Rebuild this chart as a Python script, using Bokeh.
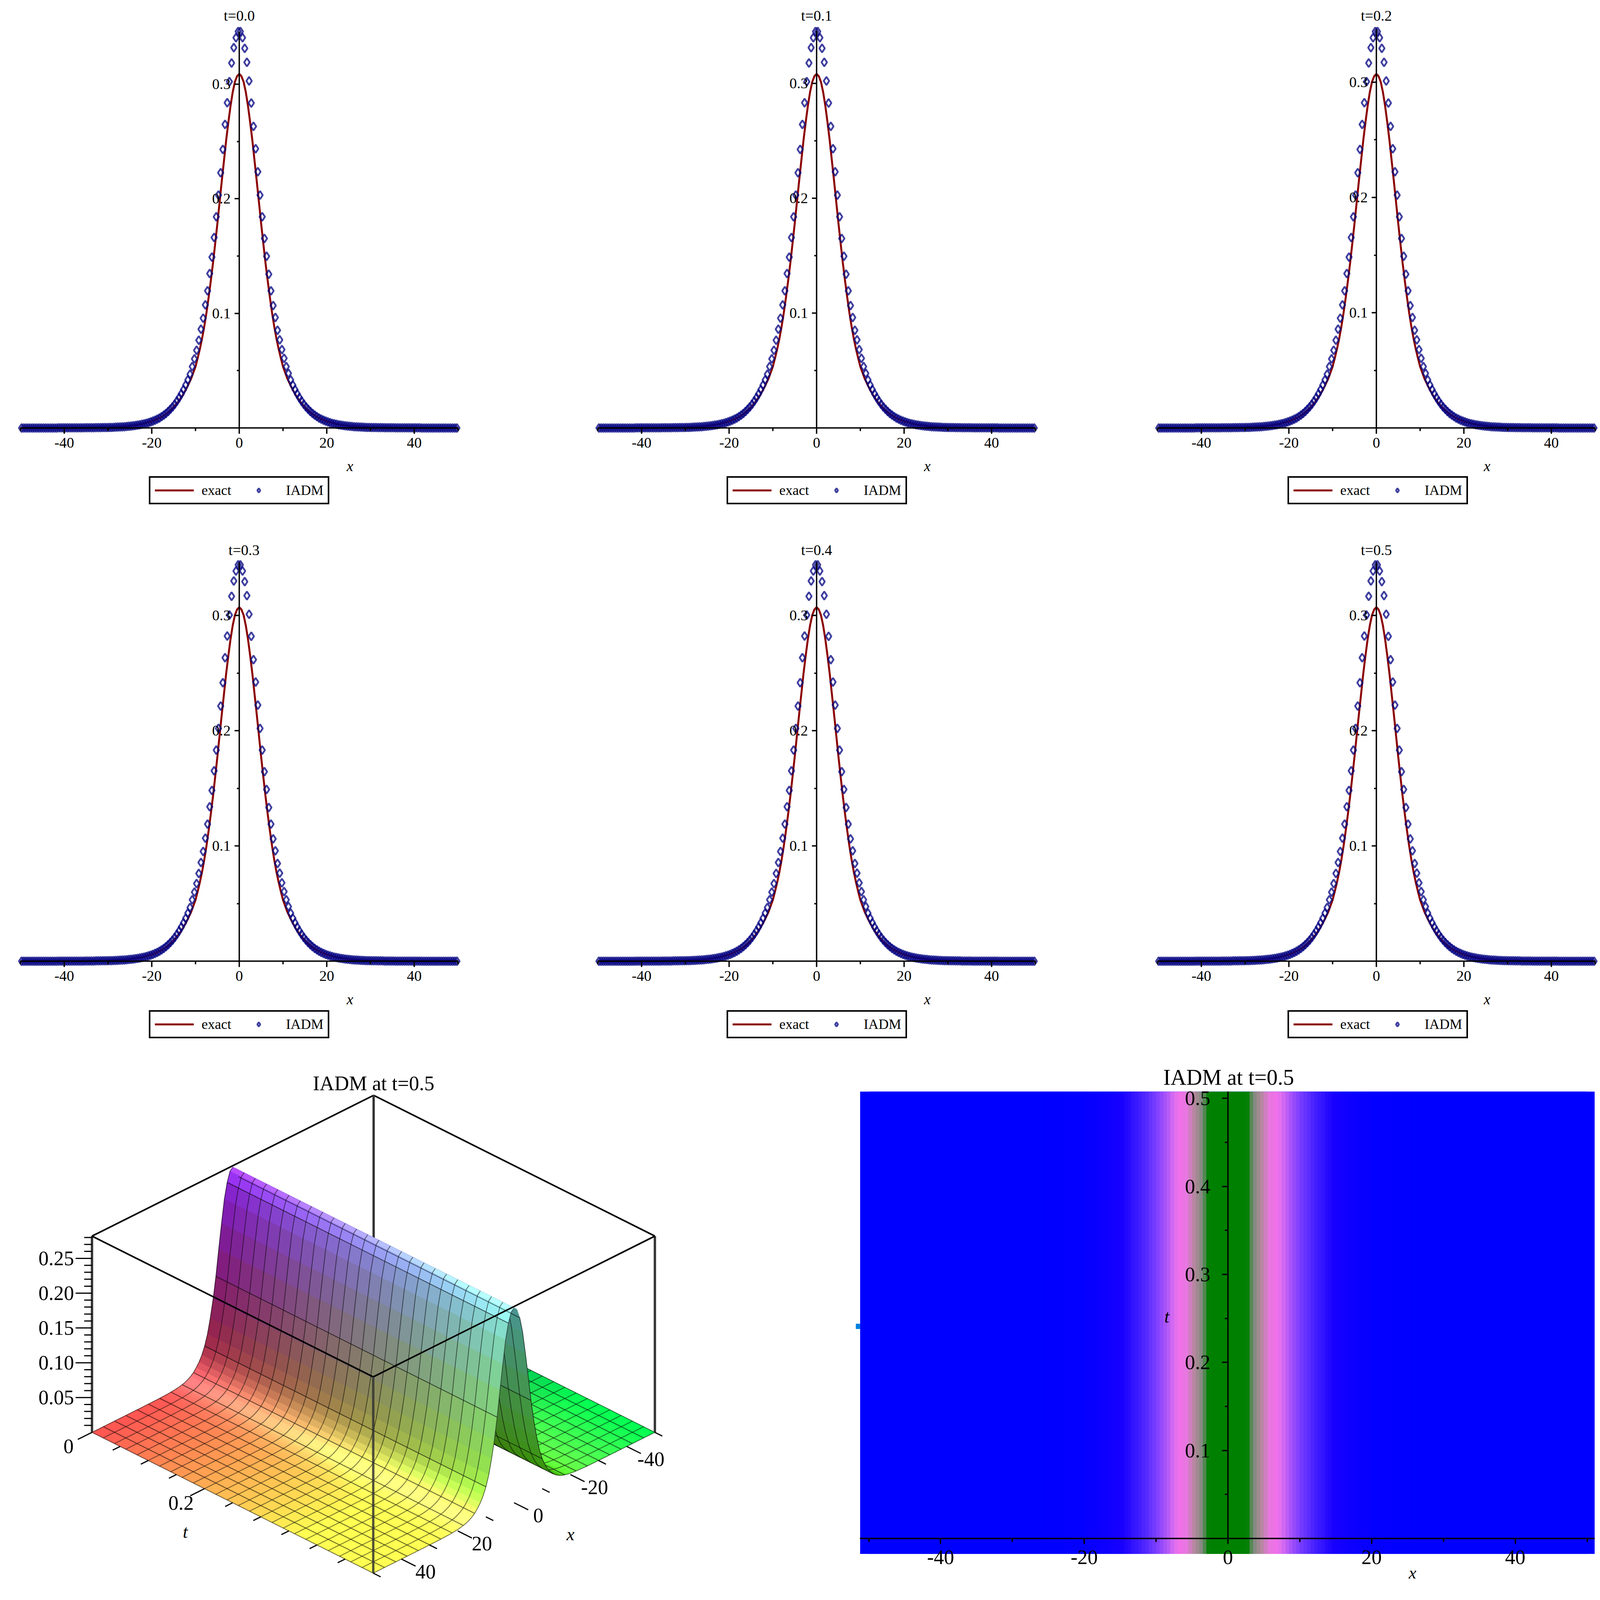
import numpy as np
from bokeh.embed import file_html
from bokeh.layouts import column, row
from bokeh.models import BoxAnnotation, ColumnDataSource, FixedTicker, Label, LinearColorMapper, Range1d
from bokeh.plotting import figure
from bokeh.resources import INLINE

panel_titles = ["t=0.0", "t=0.1", "t=0.2", "t=0.3", "t=0.4", "t=0.5"]
title_x = [0.0, 0.0, 0.0, 1.1, 0.0, 0.0]

iadm_right = [
    0.346, 0.3406, 0.3313, 0.3191, 0.3028, 0.2836, 0.2632, 0.2437, 0.2236, 0.2032,
    0.1843, 0.1654, 0.1499, 0.1342, 0.1197, 0.1068, 0.0964, 0.0853, 0.0769, 0.0684,
    0.0608, 0.0536, 0.0477, 0.0420, 0.0375, 0.0335, 0.0298, 0.0265, 0.0235, 0.0208,
    0.0184, 0.0163, 0.0144, 0.0127, 0.0112, 0.0099, 0.0087, 0.0077, 0.0068, 0.0060,
    0.0053, 0.0047, 0.0041, 0.0036, 0.0032, 0.0028, 0.0025, 0.0022, 0.0019, 0.0017,
    0.0015, 0.0013, 0.0011, 0.0010, 0.0009, 0.0008, 0.0007, 0.0006, 0.0005, 0.0005,
    0.0004, 0.0004, 0.0004, 0.0003, 0.0003, 0.0003, 0.0002, 0.0002, 0.0002, 0.0002,
    0.0002, 0.0001, 0.0001, 0.0001, 0.0001, 0.0001, 0.0001, 0.0001, 0.0001, 0.0001,
    0.0001, 0.0001, 0.0001, 0.0, 0.0, 0.0, 0.0, 0.0, 0.0, 0.0,
    0.0, 0.0, 0.0, 0.0, 0.0, 0.0, 0.0, 0.0, 0.0, 0.0,
]
iadm_left = [
    0.346, 0.3406, 0.3319, 0.3185, 0.3022, 0.2838, 0.2649, 0.2431, 0.2227, 0.2032,
    0.1843, 0.1662, 0.1491, 0.1348, 0.1197, 0.1074, 0.0958, 0.0862, 0.0766, 0.0678,
    0.0603, 0.0536, 0.0469, 0.0420, 0.0375, 0.0335, 0.0298, 0.0265, 0.0235, 0.0208,
    0.0184, 0.0163, 0.0144, 0.0127, 0.0112, 0.0099, 0.0087, 0.0077, 0.0068, 0.0060,
    0.0053, 0.0047, 0.0041, 0.0036, 0.0032, 0.0028, 0.0025, 0.0022, 0.0019, 0.0017,
    0.0015, 0.0013, 0.0011, 0.0010, 0.0009, 0.0008, 0.0007, 0.0006, 0.0005, 0.0005,
    0.0004, 0.0004, 0.0004, 0.0003, 0.0003, 0.0003, 0.0002, 0.0002, 0.0002, 0.0002,
    0.0002, 0.0001, 0.0001, 0.0001, 0.0001, 0.0001, 0.0001, 0.0001, 0.0001, 0.0001,
    0.0001, 0.0001, 0.0001, 0.0, 0.0, 0.0, 0.0, 0.0, 0.0, 0.0,
    0.0, 0.0, 0.0, 0.0, 0.0, 0.0, 0.0, 0.0, 0.0, 0.0,
]
exact_x_half = [
    0, 0.5, 1, 1.5, 2, 2.5, 3, 3.5, 4, 4.5, 5, 5.5, 6, 6.5, 7, 7.5, 8, 8.5, 9, 9.5, 10,
    11, 12, 13, 14, 15, 16, 17, 18, 19, 20, 22, 24, 26, 28, 30, 35, 40, 50,
]
exact_y_half = [
    0.309, 0.307, 0.302, 0.293, 0.281, 0.2665, 0.2508, 0.233, 0.2153, 0.197, 0.1784,
    0.161, 0.144, 0.1285, 0.114, 0.1005, 0.0885, 0.078, 0.069, 0.061, 0.0535,
    0.043, 0.035, 0.028, 0.0225, 0.018, 0.0145, 0.0115, 0.0092, 0.0073, 0.0058,
    0.0036, 0.0023, 0.0014, 0.0009, 0.0006, 0.0002, 0.0001, 0.0,
]
surface_half = [
    0.280, 0.276, 0.262, 0.240, 0.207, 0.172, 0.135, 0.104, 0.079, 0.058, 0.043,
    0.032, 0.024, 0.018, 0.013, 0.0095, 0.007, 0.005, 0.0037, 0.0027, 0.002,
    0.0015, 0.0011, 0.0008, 0.0006, 0.0004, 0.0003, 0.0002, 0.0002, 0.0001, 0.0001,
    0.0001, 0.0, 0.0, 0.0, 0.0, 0.0, 0.0, 0.0, 0.0, 0.0,
    0.0, 0.0, 0.0, 0.0, 0.0, 0.0, 0.0, 0.0, 0.0, 0.0,
]
heat_levels = [0.0, 0.02, 0.032, 0.05, 0.065, 0.09, 0.115, 0.135, 0.165, 0.21, 0.25, 0.27, 0.285, 0.346]
heat_colors = ["#0000ff", "#1800ff", "#3818ff", "#6030ff", "#8040ff", "#b058f8", "#e070f0", "#f070e8", "#e878e0",
               "#b08a98", "#808a80", "#408840", "#008000", "#008000"]

x_ticks = [-40, -20, 0, 20, 40]
x_minor = [-50, -30, -10, 10, 30, 50]
y_ticks = [0.1, 0.2, 0.3]
y_minor = [0.05, 0.15, 0.25]
t_ticks = [0.1, 0.2, 0.3, 0.4, 0.5]
t_minor = [0.05, 0.15, 0.25, 0.35, 0.45]
z_ticks = [0.05, 0.10, 0.15, 0.20, 0.25]
z_minor = [0.01, 0.02, 0.03, 0.04, 0.06, 0.07, 0.08, 0.09, 0.11, 0.12, 0.13, 0.14, 0.16,
           0.17, 0.18, 0.19, 0.21, 0.22, 0.23, 0.24, 0.26, 0.27, 0.28]
floor_t_ticks = [0.0, 0.05, 0.1, 0.15, 0.2, 0.25, 0.3, 0.35, 0.4, 0.45]
floor_x_ticks = [50, 40, 30, 20, 10, 0, -10, -20, -30, -40, -50]

SERIF = "Liberation Serif"

# positions as measured on the reference; the photograph stops short of the full height,
# so figure heights are squeezed by SQUEEZE and the ranges stay in reference px
SQUEEZE = 0.86
col_edges = [8, 1330, 2780, 4144]
row_edges = [8, 1590, 3170, 4723]
axis_x_px = [620, 2098, 3531]
axis_y_px = [1281, 2868]
title_y_px = [54, 1644]
y_unit_px = [3410, 3418, 3430, 3430, 3430, 3430]
x_unit_px = 11.2
legend_left_px = [389, 1868, 3304]
legend_bottom_px = [1509, 3098]


def squeezed(length):
    return int(round(length * SQUEEZE))


def style_axes(p, xt, xm, yt, ym, size, standoff_x, standoff_y, tick=(15, 8, 12, 6), width=3.5):
    p.xaxis.fixed_location = 0
    p.yaxis.fixed_location = 0
    p.xgrid.visible = False
    p.ygrid.visible = False
    p.outline_line_color = None
    p.min_border = 0
    p.xaxis.ticker = FixedTicker(ticks=xt, minor_ticks=xm)
    p.yaxis.ticker = FixedTicker(ticks=yt, minor_ticks=ym)
    p.xaxis.major_label_overrides = {v: str(v) for v in xt}
    p.yaxis.major_label_overrides = {v: f"{v:.1f}" for v in yt}
    for ax, out, minor, standoff in ((p.xaxis, tick[0], tick[1], standoff_x), (p.yaxis, tick[2], tick[3], standoff_y)):
        ax.major_tick_in = 0
        ax.major_tick_out = out
        ax.minor_tick_in = 0
        ax.minor_tick_out = minor
        ax.axis_line_color = "black"
        ax.axis_line_width = width
        ax.major_tick_line_color = "black"
        ax.major_tick_line_width = width
        ax.minor_tick_line_color = "black"
        ax.minor_tick_line_width = width
        ax.major_label_text_font = SERIF
        ax.major_label_text_font_size = size
        ax.major_label_text_color = "black"
        ax.major_label_standoff = standoff


iadm_x = [-0.25 - 0.5 * i for i in range(len(iadm_left))][::-1] + [0.25 + 0.5 * i for i in range(len(iadm_right))]
iadm_y = np.array(iadm_left[::-1] + iadm_right)
exact_x = [-v for v in exact_x_half[:0:-1]] + exact_x_half
exact_y = np.array(exact_y_half[:0:-1] + exact_y_half)

panels = []
for i, title in enumerate(panel_titles):
    c, r = i % 3, i // 3
    left, right = col_edges[c], col_edges[c + 1]
    top, bottom = row_edges[r], row_edges[r + 1]
    x0, y0, uy = axis_x_px[c], axis_y_px[r], y_unit_px[i]
    scale = y_unit_px[0] / uy
    p = figure(width=right - left, height=squeezed(bottom - top), output_backend="svg", toolbar_location=None,
               x_range=Range1d((left - x0) / x_unit_px, (right - x0) / x_unit_px),
               y_range=Range1d((y0 - bottom) / uy, (y0 - top) / uy))
    style_axes(p, x_ticks, x_minor, y_ticks, y_minor, "38px", 10, 10)
    p.xaxis.bounds = (-50, 50)
    p.yaxis.bounds = (0, 0.346)
    p.line(exact_x, exact_y * scale, line_color="#8b0000", line_width=5, legend_label="exact")
    p.scatter(iadm_x, iadm_y * scale, marker="diamond", size=21, fill_color=None, line_color="#000080",
              line_alpha=0.75, line_width=4.5, legend_label="IADM")
    p.add_layout(Label(x=title_x[i], y=(y0 - title_y_px[r]) / uy, text=title, text_align="center",
                       text_baseline="middle", text_font=SERIF, text_font_size="38px", text_color="black"))
    p.add_layout(Label(x=25.3, y=-113 / uy, text="x", text_align="center", text_baseline="middle",
                       text_font=SERIF, text_font_size="38px", text_font_style="italic", text_color="black"))
    leg = p.legend[0]
    leg.orientation = "horizontal"
    leg.location = (legend_left_px[c] - left, squeezed(bottom - legend_bottom_px[r]))
    leg.margin = 0
    leg.padding = 11
    leg.spacing = 20
    leg.glyph_width = 100
    leg.glyph_height = 28
    leg.label_standoff = 20
    leg.label_text_font = SERIF
    leg.label_text_font_size = "36px"
    leg.label_text_color = "black"
    leg.border_line_color = "black"
    leg.border_line_alpha = 1
    leg.border_line_width = 4
    leg.background_fill_alpha = 1
    panels.append(p)

fig3_left, fig3_right = col_edges[0], 2150
fig3_top, fig3_bottom = row_edges[2], row_edges[3]
p3 = figure(width=fig3_right - fig3_left, height=squeezed(fig3_bottom - fig3_top), output_backend="svg",
            toolbar_location=None, x_range=Range1d(fig3_left, fig3_right), y_range=Range1d(fig3_bottom, fig3_top),
            x_axis_location=None, y_axis_location=None)
p3.xgrid.visible = False
p3.ygrid.visible = False
p3.outline_line_color = None
p3.min_border = 0

corner_left = np.array([243.0, 4270.0])
edge_t = np.array([720.0, 419.0])
edge_x = np.array([721.0, -419.0])
box_z = 0.282
box_h = 584.0


def proj(x, t, z):
    x, t, z = np.asarray(x, float), np.asarray(t, float), np.asarray(z, float)
    sx = corner_left[0] + (50 - x) / 100 * edge_x[0] + t / 0.5 * edge_t[0]
    sy = corner_left[1] + (50 - x) / 100 * edge_x[1] + t / 0.5 * edge_t[1] - z / box_z * box_h
    return sx, sy


def seg(a, b):
    xa, ya = proj(*a)
    xb, yb = proj(*b)
    return [float(xa), float(xb)], [float(ya), float(yb)]


back = [seg((50, 0, box_z), (-50, 0, box_z)), seg((-50, 0, box_z), (-50, 0.5, box_z))]
p3.multi_line([s[0] for s in back], [s[1] for s in back], line_color="black", line_width=4)
verts = [seg((-50, 0, 0), (-50, 0, box_z)), seg((50, 0, 0), (50, 0, box_z)), seg((-50, 0.5, 0), (-50, 0.5, box_z))]
p3.multi_line([s[0] for s in verts], [s[1] for s in verts], line_color="#333333", line_width=6)

surf_x = np.arange(-50, 51, 1.0)
surf_z = np.array(surface_half[:0:-1] + surface_half)
slope = np.gradient(surf_z, surf_x)
phi = np.arctan(-slope * 100 / box_z * 0.8)
light = np.clip(np.cos(phi - np.radians(30)), 0, 1)
T_CELLS = 25
t_step = 0.5 / T_CELLS
GRID_STEP = 4


def cell_color(k, j):
    xn = (surf_x[k] + 50.5) / 100
    tn = (j + 0.5) / T_CELLS
    zn = 0.5 * (surf_z[k] + surf_z[k + 1]) / box_z
    d = 0.5 * (light[k] + light[k + 1])
    f = 0.6 + 0.4 * d * d
    w = 0.5 * d ** 3
    red = xn * f + w * min(1, xn * 2)
    green = tn * f + w
    blue = zn * f + w
    return "#%02x%02x%02x" % tuple(int(255 * min(1, v)) for v in (red, green, blue))


for s in range(0, len(surf_x) - 1, GRID_STEP):
    xs, ys, cols = [], [], []
    for k in range(s, s + GRID_STEP):
        for j in range(T_CELLS):
            t0, t1 = j * t_step, (j + 1) * t_step
            sx, sy = proj([surf_x[k], surf_x[k + 1], surf_x[k + 1], surf_x[k]], [t0, t0, t1, t1],
                          [surf_z[k], surf_z[k + 1], surf_z[k + 1], surf_z[k]])
            xs.append(sx.tolist())
            ys.append(sy.tolist())
            cols.append(cell_color(k, j))
    p3.patches(xs, ys, fill_color=cols, line_color=cols, line_width=1)
    # the strip across the ridge only gets lines on its front half, so the top edge stays clean
    first = max(s, int(np.searchsorted(surf_x, 0))) if surf_x[s] < 0 < surf_x[s + GRID_STEP] else s
    lx, ly = [], []
    count = s + GRID_STEP + 1 - first
    for j in range(T_CELLS + 1):
        sx, sy = proj(surf_x[first:s + GRID_STEP + 1], [j * t_step] * count, surf_z[first:s + GRID_STEP + 1])
        lx.append(sx.tolist())
        ly.append(sy.tolist())
    for k in (s, s + GRID_STEP):
        sx, sy = proj([surf_x[k]] * 2, [0, 0.5], [surf_z[k]] * 2)
        lx.append(sx.tolist())
        ly.append(sy.tolist())
    p3.multi_line(lx, ly, line_color="black", line_alpha=0.55, line_width=2)

front = [seg((50, 0, box_z), (50, 0.5, box_z)), seg((-50, 0.5, box_z), (50, 0.5, box_z))]
p3.multi_line([s[0] for s in front], [s[1] for s in front], line_color="black", line_width=4)
fv = seg((50, 0.5, 0), (50, 0.5, box_z))
p3.line(fv[0], fv[1], line_color="#333333", line_width=6, line_alpha=0.85)

tick_x, tick_y = [], []
zx, zy = proj(50, 0, 0)
for v in z_ticks + z_minor:
    length = 42 if v in z_ticks else 20
    _, y_ = proj(50, 0, v)
    tick_x.append([float(zx), float(zx) - length])
    tick_y.append([float(y_), float(y_)])
x_dir = -edge_x / np.hypot(*edge_x)
t_dir = edge_t / np.hypot(*edge_t)
for v in floor_t_ticks:
    sx, sy = proj(50, v, 0)
    length = 42 if v in (0.0, 0.2) else 22
    tick_x.append([float(sx), float(sx + x_dir[0] * length)])
    tick_y.append([float(sy), float(sy + x_dir[1] * length)])
for v in floor_x_ticks:
    sx, sy = proj(v, 0.5, 0)
    length = 42 if v in x_ticks else 22
    tick_x.append([float(sx), float(sx + t_dir[0] * length)])
    tick_y.append([float(sy), float(sy + t_dir[1] * length)])
p3.multi_line(tick_x, tick_y, line_color="black", line_width=3)

z_src = ColumnDataSource(data=dict(x=[float(zx) - 46] * len(z_ticks), y=[float(proj(50, 0, v)[1]) for v in z_ticks],
                                   text=[f"{v:.2f}" for v in z_ticks]))
p3.text("x", "y", "text", source=z_src, text_align="right", text_baseline="middle", text_font=SERIF,
        text_font_size="52px", text_color="black")
lab_x, lab_y, lab_text = [], [], []
for v, txt in ((0.0, "0"), (0.2, "0.2")):
    sx, sy = proj(50, v, 0)
    lab_x.append(float(sx) - 60)
    lab_y.append(float(sy) + 42)
    lab_text.append(txt)
for v in x_ticks:
    sx, sy = proj(v, 0.5, 0)
    lab_x.append(float(sx) + 62)
    lab_y.append(float(sy) + 38)
    lab_text.append(str(v))
lab_x.append(964)
lab_y.append(3232)
lab_text.append("IADM at t=0.5")
p3.text(lab_x, lab_y, lab_text, text_align="center", text_baseline="middle", text_font=SERIF,
        text_font_size="52px", text_color="black")
p3.text([482, 1468], [4566, 4573], ["t", "x"], text_align="center", text_baseline="middle", text_font=SERIF,
        text_font_size="46px", text_font_style="italic", text_color="black")

fig4_left, fig4_right = 2150, col_edges[3]
d_x0, d_ux = 3151, 18.39
d_y0, d_ut = 4586, 2620
p4 = figure(width=fig4_right - fig4_left, height=squeezed(fig3_bottom - fig3_top), output_backend="svg",
            toolbar_location=None, x_range=Range1d((fig4_left - d_x0) / d_ux, (fig4_right - d_x0) / d_ux),
            y_range=Range1d((d_y0 - fig3_bottom) / d_ut, (d_y0 - fig3_top) / d_ut))
style_axes(p4, x_ticks, x_minor, t_ticks, t_minor, "52px", 16, 30, tick=(14, 9, 15, 8))
p4.yaxis.bounds = (0, 0.5076)
p4.xaxis.bounds = (-51.2, 51.05)
p4.quad(left=-51.2, right=51.05, bottom=-0.0175, top=0.5076, fill_color="#0000ff", line_color=None)
palette_pos = np.linspace(0, heat_levels[-1], 256)
heat_rgb = np.array([[int(c[k:k + 2], 16) for k in (1, 3, 5)] for c in heat_colors], float)
palette = ["#%02x%02x%02x" % tuple(int(np.interp(v, heat_levels, heat_rgb[:, k])) for k in range(3)) for v in palette_pos]
mapper = LinearColorMapper(palette=palette, low=0, high=heat_levels[-1])
field = np.array([iadm_y] * len(panel_titles))
p4.image(image=[field], x=-50, y=-0.0175, dw=100, dh=0.5251, color_mapper=mapper)
p4.add_layout(BoxAnnotation(left=-51.8, right=-51.2, bottom=0.238, top=0.244, fill_color="#0080e0", fill_alpha=1, line_color=None))
p4.add_layout(Label(x=0.1, y=(d_y0 - 3214) / d_ut, text="IADM at t=0.5", text_align="center", text_baseline="middle",
                    text_font=SERIF, text_font_size="56px", text_color="black"))
p4.add_layout(Label(x=-8.5, y=0.252, text="t", text_align="center", text_baseline="middle", text_font=SERIF,
                    text_font_size="46px", text_font_style="italic", text_color="black"))
p4.add_layout(Label(x=25.7, y=(d_y0 - 4688) / d_ut, text="x", text_align="center", text_baseline="middle", text_font=SERIF,
                    text_font_size="44px", text_font_style="italic", text_color="black"))

layout = column(row(panels[0], panels[1], panels[2]), row(panels[3], panels[4], panels[5]), row(p3, p4))
open("out.html", "w").write(file_html(layout, INLINE))
